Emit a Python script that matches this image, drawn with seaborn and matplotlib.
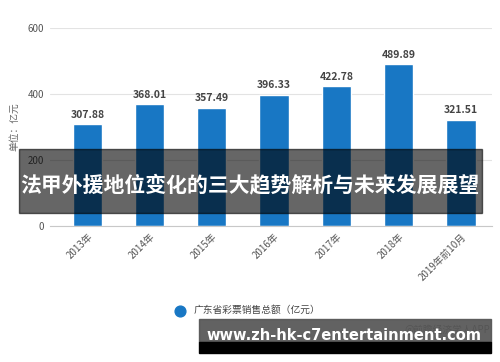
import matplotlib
matplotlib.use("Agg")
import matplotlib.pyplot as plt
import seaborn as sns
import pandas as pd
from matplotlib.patches import Rectangle

# Data
years = ["2013年", "2014年", "2015年", "2016年", "2017年", "2018年", "2019年前10月"]
sales = [307.88, 368.01, 357.49, 396.33, 422.78, 489.89, 321.51]
yticks = [0, 200, 400, 600]

series_name = "广东省彩票销售总额（亿元）"
overlay_title = "法甲外援地位变化的三大趋势解析与未来发展展望"
site_url = "www.zh-hk-c7entertainment.com"

sns.set_style("white")
plt.rcParams['font.family'] = ['Noto Sans CJK SC', 'DejaVu Sans']

df = pd.DataFrame({"year": years, "sales": sales})

fig = plt.figure(figsize=(5, 3.62), dpi=100)
ax = fig.add_axes([0.1, 0.376, 0.884, 0.547])

bar_color = "#1877c4"
sns.barplot(data=df, x="year", y="sales", color=bar_color, width=0.47,
            saturation=1, ax=ax)

ax.set_ylim(0, 600)
ax.set_xlim(-0.6, 6.5)
ax.set_yticks(yticks)
ax.yaxis.grid(True, color="#e3e3e3", linewidth=0.8)
ax.set_axisbelow(True)
for s in ["top", "right", "left"]:
    ax.spines[s].set_visible(False)
ax.spines["bottom"].set_color("#c8c8c8")
ax.tick_params(axis="y", length=0, labelsize=7, labelcolor="#555555", pad=4)
ax.tick_params(axis="x", length=3, color="#c8c8c8", labelsize=7,
               labelcolor="#555555", pad=1)
plt.setp(ax.get_xticklabels(), rotation=45, ha="right", rotation_mode="anchor")
ax.set_xlabel("")
ax.set_ylabel("单位：亿元", fontsize=7, color="#666666", labelpad=6)

for i, v in enumerate(sales):
    ax.text(i, v + 14, f"{v:.2f}", ha="center", va="bottom", fontsize=7.5,
            fontweight="bold", color="#444444")

# legend below
ax.scatter([], [], s=60, color=bar_color, label=series_name)
leg = fig.legend(loc="center", bbox_to_anchor=(0.49, 0.143), frameon=False,
                 fontsize=7, handletextpad=0.4, markerscale=1)
for t in leg.get_texts():
    t.set_color("#444444")

# source note, partly hidden behind the url band like in the original
fig.text(0.98, 0.088, "@前瞻经济学人APP", ha="right", va="center", fontsize=7,
         color="#555555", zorder=1)

# dark overlay band with title
fig.patches.append(Rectangle((0.038, 1 - 213 / 362), 0.926, 64 / 362,
                             transform=fig.transFigure, color="black",
                             alpha=0.6, zorder=10))
fig.text(0.5, 1 - 185 / 362, overlay_title, ha="center", va="center",
         fontsize=15, fontweight="bold", color="white", zorder=11)

# url band at bottom right
fig.patches.append(Rectangle((0.398, 1 - 342 / 362), 0.584, 23 / 362,
                             transform=fig.transFigure, color="#555555",
                             alpha=0.92, zorder=10))
fig.patches.append(Rectangle((0.398, 1 - 353 / 362), 0.584, 11 / 362,
                             transform=fig.transFigure, color="black",
                             zorder=10))
fig.text(0.687, 1 - 336 / 362, site_url, ha="center", va="center",
         fontsize=10.5, fontweight="bold", color="white", zorder=11,
         family="DejaVu Sans")

fig.savefig("out.png", dpi=100)
